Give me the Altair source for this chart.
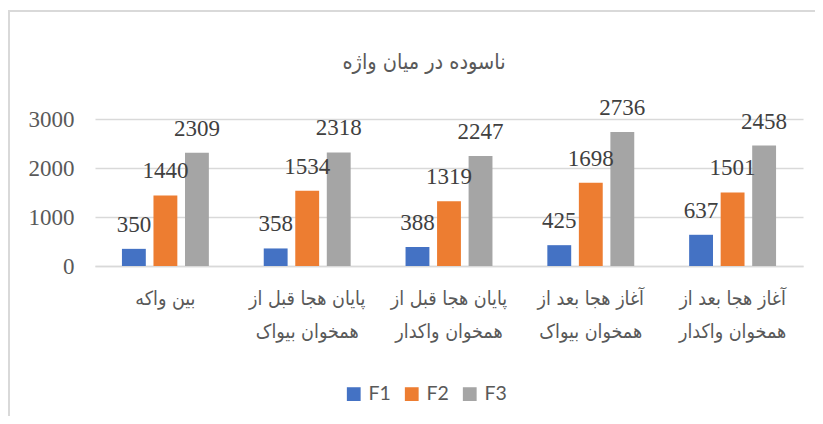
import altair as alt
import pandas as pd

categories = [
    "بین واکه",
    "پایان هجا قبل از\nهمخوان بیواک",
    "پایان هجا قبل از\nهمخوان واکدار",
    "آغاز هجا بعد از\nهمخوان بیواک",
    "آغاز هجا بعد از\nهمخوان واکدار",
]
series = ["F1", "F2", "F3"]
f1 = [350, 358, 388, 425, 637]
f2 = [1440, 1534, 1319, 1698, 1501]
f3 = [2309, 2318, 2247, 2736, 2458]
colors = ["#4472C4", "#ED7D31", "#A5A5A5"]
y_ticks = [0, 1000, 2000, 3000]
title_text = ["ناسوده  در میان واژه"]

serif = "Liberation Serif, Times New Roman, serif"
arabic = "DejaVu Sans Condensed, DejaVu Sans, sans-serif"

rows = []
for name, vals in zip(series, [f1, f2, f3]):
    for c, v in zip(categories, vals):
        rows.append({"cat": c, "series": name, "value": v})
df = pd.DataFrame(rows)

x_enc = alt.X(
    "cat:N",
    sort=categories,
    scale=alt.Scale(paddingInner=0.387, paddingOuter=0.19),
    axis=alt.Axis(
        title=None,
        labelAngle=0,
        ticks=False,
        domainColor="#D9D9D9",
        domainWidth=1.5,
        labelFont=arabic,
        labelFontSize=19.5,
        labelColor="#595959",
        labelLineHeight=33,
        labelPadding=23,
        labelExpr="split(datum.label, '\\n')",
    ),
)
xo_enc = alt.XOffset("series:N", sort=series, scale=alt.Scale(paddingInner=0.243, paddingOuter=0))
y_enc = alt.Y(
    "value:Q",
    scale=alt.Scale(domain=[0, 3000], nice=False),
    axis=alt.Axis(
        title=None,
        values=y_ticks,
        format="d",
        grid=True,
        gridColor="#D9D9D9",
        gridWidth=1.5,
        domain=False,
        ticks=False,
        labelFont=serif,
        labelFontSize=23,
        labelColor="#595959",
        labelPadding=21,
    ),
)

bars = alt.Chart(df).mark_bar().encode(
    x=x_enc,
    xOffset=xo_enc,
    y=y_enc,
    color=alt.Color(
        "series:N",
        sort=series,
        scale=alt.Scale(domain=series, range=colors),
        legend=alt.Legend(
            orient="none",
            legendX=249,
            legendY=265,
            direction="horizontal",
            title=None,
            symbolType="square",
            symbolSize=190,
            symbolStrokeWidth=0,
            labelFont="Lato",
            labelFontSize=19.5,
            labelColor="#595959",
            columnPadding=11,
            labelOffset=5,
            padding=0,
        ),
    ),
)

labels = alt.Chart(df).mark_text(
    baseline="alphabetic", dy=-17, fontSize=23, font=serif, color="#404040"
).encode(x=x_enc, xOffset=xo_enc, y=y_enc, text="value:Q")

one = pd.DataFrame({"v": [0]})
frame_left = alt.Chart(one).mark_rule(color="#D9D9D9", strokeWidth=2).encode(
    x=alt.value(-86), y=alt.value(-108), y2=alt.value(320)
)
frame_top = alt.Chart(one).mark_rule(color="#D9D9D9", strokeWidth=2).encode(
    x=alt.value(-87), x2=alt.value(730), y=alt.value(-108)
)
title = alt.Chart(pd.DataFrame({"t": title_text})).mark_text(
    font=arabic, fontSize=21.5, color="#595959", baseline="middle", align="center"
).encode(x=alt.value(329), y=alt.value(-56), text="t:N")

chart = alt.layer(bars, labels, frame_left, frame_top, title).properties(
    width=708,
    height=147,
    autosize=alt.AutoSizeParams(type="none"),
    padding={"left": 87, "top": 111, "right": 12, "bottom": 150},
).configure_view(stroke=None)

chart.save("out.html", embed_options={"renderer": "svg", "actions": False})
